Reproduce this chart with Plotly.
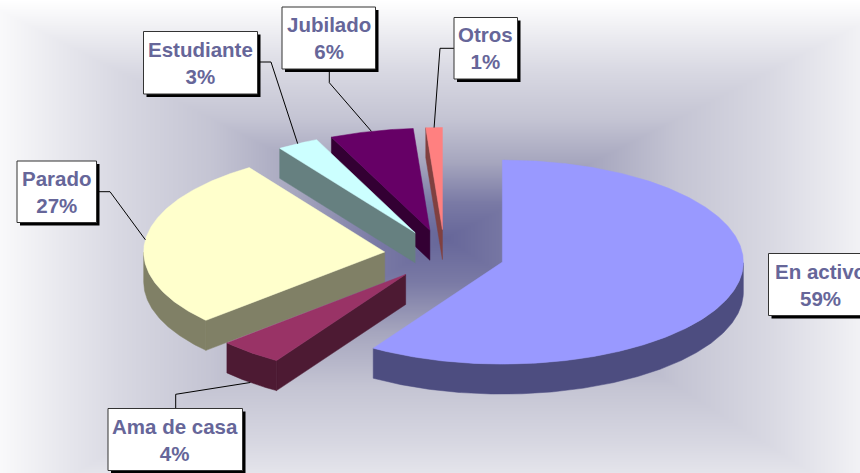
import numpy as np
import plotly.graph_objects as go

# Employment status shares (percent); labels show the rounded figure.
categories = ["En activo", "Ama de casa", "Parado", "Estudiante", "Jubilado", "Otros"]
values = [59.0, 4.3, 27.2, 2.8, 5.6, 1.1]
top_colors = ["#9999FF", "#993366", "#FFFFCC", "#CCFFFF", "#660066", "#FF8080"]
side_colors = ["#4D4D80", "#4D1A33", "#808066", "#668080", "#330033", "#804040"]

# Projection of the tilted pie, in page pixels.
W, H = 860, 473
CX, CY = 444.5, 255.0
RX, RY = 241.0, 102.0
DEPTH = 30.0
EXPLODE = 0.25

# Slices painted back to front.
PAINT_ORDER = [5, 4, 3, 2, 1, 0]

# Callout boxes: left, top, right, bottom.
BOXES = {
    "En activo": (768.5, 253.5, 872, 315.5),
    "Ama de casa": (108, 408.5, 242.5, 470.5),
    "Parado": (17, 161, 96.5, 222.5),
    "Estudiante": (143.5, 31.5, 257.5, 94),
    "Jubilado": (282, 7, 375.5, 69),
    "Otros": (454, 17.5, 517.5, 79),
}
SHADOW = 3.0

# Leader elbows running from a box edge toward its slice.
ELBOWS = {
    "Ama de casa": [(175.7, 408.5), (175.7, 394.3)],
    "Parado": [(96.5, 191.7), (110, 191.7)],
    "Estudiante": [(257.5, 62), (271, 62)],
    "Jubilado": [(329.3, 69), (329.3, 82.7)],
    "Otros": [(454, 48.3), (440, 48.3)],
}


def rim(theta, off):
    return (off[0] + RX * np.sin(theta), off[1] - RY * np.cos(theta))


def polygon_trace(xs, ys, color):
    return go.Scatter(
        x=xs, y=ys, mode="lines", fill="toself", fillcolor=color,
        line=dict(color=color, width=0.5), hoverinfo="skip", showlegend=False,
    )


# Rectangular path gradient behind the pie; it fades past the right and bottom edges.
gx = np.arange(0, W + 2, 2.0)
gy = np.arange(0, H + 2, 2.0)
XX, YY = np.meshgrid(gx, gy)
GC_X, GC_Y = 445.0, 238.0
dx = np.where(XX < GC_X, (GC_X - XX) / (GC_X + 20), (XX - GC_X) / (W + 46 - GC_X))
dy = np.where(YY < GC_Y, (GC_Y - YY) / GC_Y, (YY - GC_Y) / (H + 60 - GC_Y))
grad = np.maximum(dx, dy)

fig = go.Figure()
fig.add_trace(go.Heatmap(
    x=gx, y=gy, z=grad, zmin=0, zmax=1, zsmooth="best", showscale=False, hoverinfo="skip",
    colorscale=[
        [0.0, "#666699"], [0.15, "#7A7AA5"], [0.32, "#A6A6BE"], [0.5, "#C4C4D3"],
        [0.7, "#D8D8E2"], [0.85, "#EBEBF0"], [1.0, "#FFFFFF"],
    ],
))

# Slice angles run clockwise from twelve o'clock.
total = sum(values)
edges = np.radians(np.concatenate([[0.0], np.cumsum(values)]) / total * 360.0)
mids = (edges[:-1] + edges[1:]) / 2
offsets = [
    (CX + EXPLODE * RX * np.sin(m), CY - EXPLODE * RY * np.cos(m)) for m in mids
]


def wall_trace(angle, off, color):
    ex, ey = rim(angle, off)
    return polygon_trace(
        [off[0], ex, ex, off[0], off[0]],
        [off[1], ey, ey + DEPTH, off[1] + DEPTH, off[1]],
        color,
    )


for i in PAINT_ORDER:
    a0, a1, off = edges[i], edges[i + 1], offsets[i]
    thetas = np.linspace(a0, a1, max(8, int(np.degrees(a1 - a0) * 2)))
    rx_pts, ry_pts = rim(thetas, off)

    # Only the faces turned toward the viewer get drawn.
    if np.sin(a0) < -1e-9:
        fig.add_trace(wall_trace(a0, off, side_colors[i]))
    if np.sin(a1) > 1e-9:
        fig.add_trace(wall_trace(a1, off, side_colors[i]))
    front = np.cos(thetas) < 0
    if front.any():
        fx, fy = rx_pts[front], ry_pts[front]
        fig.add_trace(polygon_trace(
            list(fx) + list(fx[::-1]) + [fx[0]],
            list(fy) + list((fy + DEPTH)[::-1]) + [fy[0]],
            side_colors[i],
        ))

    # Top face.
    fig.add_trace(polygon_trace(
        [off[0]] + list(rx_pts) + [off[0]], [off[1]] + list(ry_pts) + [off[1]], top_colors[i],
    ))

shapes = []
annotations = []

# Leader lines end on the rim at each slice's middle angle.
for i, name in enumerate(categories):
    if name not in ELBOWS:
        continue
    ex = offsets[i][0] + RX * np.sin(mids[i])
    ey = offsets[i][1] - RY * np.cos(mids[i])
    if np.cos(mids[i]) < 0:
        ey += DEPTH
    pts = ELBOWS[name] + [(ex, ey)]
    path = "M " + " L ".join(f"{px:.1f} {py:.1f}" for px, py in pts)
    shapes.append(dict(type="path", path=path, line=dict(color="#000000", width=1)))

for i, name in enumerate(categories):
    x0, y0, x1, y1 = BOXES[name]
    shapes.append(dict(type="rect", x0=x0 + SHADOW, y0=y0 + SHADOW, x1=x1 + SHADOW, y1=y1 + SHADOW,
                       fillcolor="#000000", line=dict(width=0)))
    shapes.append(dict(type="rect", x0=x0, y0=y0, x1=x1, y1=y1,
                       fillcolor="#FFFFFF", line=dict(color="#333333", width=1)))
    annotations.append(dict(
        x=(x0 + x1) / 2, y=(y0 + y1) / 2, text=f"<b>{name}<br>{round(values[i])}%</b>",
        showarrow=False, xanchor="center", yanchor="middle", align="center",
        font=dict(family="Liberation Sans, Arial, sans-serif", size=20.5, color="#666699"),
    ))

fig.update_layout(
    width=W, height=H, margin=dict(l=0, r=0, t=0, b=0), showlegend=False,
    paper_bgcolor="#FFFFFF", plot_bgcolor="#FFFFFF",
    xaxis=dict(range=[0, W], visible=False, fixedrange=True),
    yaxis=dict(range=[H, 0], visible=False, fixedrange=True),
    shapes=shapes, annotations=annotations,
)
fig.write_html("out.html", config=dict(displayModeBar=False))
